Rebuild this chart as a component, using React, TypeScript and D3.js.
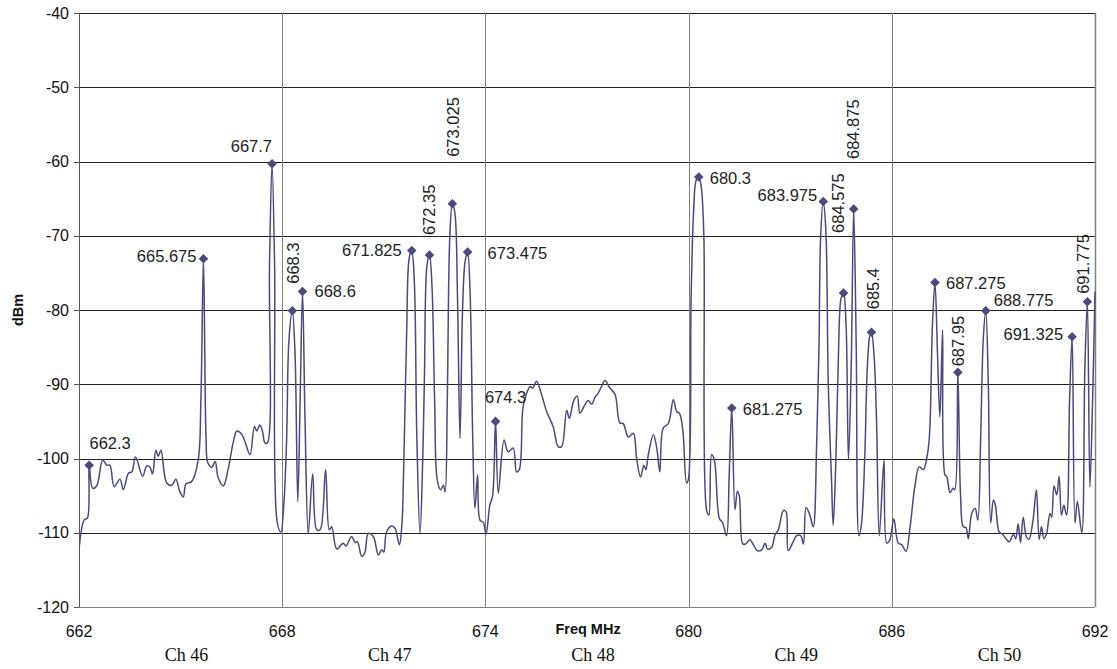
import React from 'react';
import * as d3 from 'd3';

const freqs = [
  662.0, 662.15, 662.25, 662.3, 662.4, 662.52, 662.7, 662.82, 662.91, 663.04,
  663.21, 663.31, 663.46, 663.56, 663.67, 663.88, 664.0, 664.1, 664.17, 664.27,
  664.34, 664.42, 664.59, 664.74, 664.86, 664.98, 665.08, 665.16, 665.33, 665.52,
  665.6, 665.675, 665.75, 665.8, 665.92, 666.02, 666.11, 666.26, 666.41, 666.56,
  666.66, 666.8, 666.9, 667.05, 667.18, 667.25, 667.34, 667.42, 667.49, 667.56,
  667.625, 667.7, 667.775, 667.85, 667.96, 668.05, 668.13, 668.2, 668.3, 668.38,
  668.46, 668.53, 668.6, 668.675, 668.77, 668.9, 669.02, 669.12, 669.28, 669.39,
  669.46, 669.61, 669.8, 669.88, 670.05, 670.15, 670.22, 670.35, 670.44, 670.54,
  670.69, 670.84, 670.94, 671.0, 671.08, 671.23, 671.33, 671.46, 671.53, 671.58,
  671.675, 671.75, 671.825, 671.9, 671.975, 672.07, 672.15, 672.2, 672.275, 672.35,
  672.425, 672.5, 672.58, 672.68, 672.76, 672.81, 672.875, 672.95, 673.025, 673.1,
  673.175, 673.25, 673.325, 673.4, 673.475, 673.55, 673.625, 673.69, 673.77, 673.84,
  673.94, 674.02, 674.13, 674.21, 674.3, 674.38, 674.55, 674.67, 674.82, 674.92,
  675.0, 675.1, 675.17, 675.32, 675.4, 675.51, 675.66, 675.81, 676.0, 676.15,
  676.25, 676.4, 676.48, 676.6, 676.71, 676.79, 676.91, 677.04, 677.14, 677.24,
  677.33, 677.43, 677.53, 677.66, 677.83, 677.97, 678.07, 678.22, 678.37, 678.46,
  678.58, 678.68, 678.74, 678.81, 678.96, 679.06, 679.15, 679.25, 679.4, 679.55,
  679.65, 679.73, 679.83, 679.94, 679.99, 680.075, 680.15, 680.225, 680.3, 680.375,
  680.45, 680.53, 680.6, 680.68, 680.76, 680.91, 681.0, 681.12, 681.2, 681.275,
  681.37, 681.44, 681.5, 681.6, 681.69, 681.81, 681.91, 682.03, 682.16, 682.26,
  682.33, 682.45, 682.55, 682.65, 682.8, 682.88, 682.94, 683.09, 683.19, 683.31,
  683.39, 683.47, 683.58, 683.68, 683.78, 683.85, 683.9, 683.975, 684.05, 684.125,
  684.22, 684.27, 684.35, 684.425, 684.5, 684.575, 684.65, 684.72, 684.8, 684.875,
  684.95, 685.03, 685.1, 685.2, 685.275, 685.35, 685.4, 685.475, 685.55, 685.63,
  685.77, 685.85, 685.94, 686.06, 686.19, 686.29, 686.42, 686.54, 686.68, 686.81,
  686.93, 687.03, 687.11, 687.2, 687.275, 687.35, 687.42, 687.5, 687.57, 687.62,
  687.72, 687.81, 687.86, 687.95, 688.03, 688.11, 688.19, 688.26, 688.36, 688.46,
  688.54, 688.625, 688.7, 688.775, 688.85, 688.92, 689.0, 689.06, 689.17, 689.27,
  689.37, 689.47, 689.59, 689.66, 689.73, 689.8, 689.88, 689.97, 690.05, 690.17,
  690.27, 690.35, 690.42, 690.49, 690.57, 690.67, 690.72, 690.79, 690.87, 690.94,
  691.01, 691.08, 691.16, 691.25, 691.325, 691.41, 691.48, 691.61, 691.7, 691.775,
  691.85, 691.93, 692.0,
];

const levels = [
  -112.3, -108.3, -108.0, -100.9, -104.0, -103.7, -100.2, -100.9, -100.9, -103.8,
  -102.8, -104.2, -102.0, -101.8, -99.8, -102.4, -101.0, -101.2, -102.1, -98.9,
  -99.7, -98.9, -103.3, -103.6, -102.8, -104.5, -105.2, -103.4, -103.1, -100.2,
  -92, -73.1, -97, -100.5, -101.2, -100.4, -102.6, -103.7, -101.3, -97.7,
  -96.3, -96.7, -97.7, -99.5, -95.7, -96.3, -95.5, -96.4, -97.9, -97.9,
  -74, -60.3, -74, -108.5, -109.9, -106, -97.5, -84, -80.1, -86,
  -105.8, -92, -77.5, -95, -110.1, -102.1, -109.6, -109.6, -101.5, -109.6,
  -109.2, -112.2, -111.4, -111.8, -110.5, -111.3, -111.2, -113.2, -112.7, -110.1,
  -110.5, -113.0, -112.3, -112.6, -109.9, -109.1, -109.4, -111.6, -109.2, -102.9,
  -83, -73, -72.0, -76, -97, -110.2, -100, -89, -74, -72.6,
  -77, -92, -102.9, -104.2, -103.6, -104.5, -92, -70, -65.7, -67,
  -78, -97.3, -80, -73.5, -72.2, -78, -97, -106.7, -102.2, -108.3,
  -108.6, -110.2, -106.3, -105.1, -95.0, -104.7, -97.5, -99.1, -98.6, -101.8,
  -101.5, -93.5, -91.9, -90.3, -90.5, -89.6, -91.4, -93.7, -95.7, -98.4,
  -98.4, -93.5, -94.6, -92.3, -91.6, -93.9, -93.0, -92.2, -92.7, -91.7,
  -91.2, -90.3, -89.5, -90.4, -91.4, -95.2, -95.3, -97.1, -96.6, -99.8,
  -102.5, -100.9, -101.5, -99.5, -96.8, -98.6, -101.8, -95.9, -95.3, -92.1,
  -93.7, -93.9, -96.2, -103.3, -102.9, -78, -66.5, -62.5, -62.1, -63.5,
  -70, -106.9, -107.6, -99.5, -100.2, -108.1, -108.6, -110.4, -102, -93.2,
  -106.9, -104.4, -105.1, -111.5, -111.5, -110.9, -111.6, -112.4, -112.3, -111.4,
  -112.2, -112.0, -110.3, -109.6, -107.0, -107.2, -112.4, -111.2, -110.4, -110.4,
  -111.5, -106.6, -107.6, -109.2, -98.4, -85, -70, -65.4, -69, -90,
  -102.9, -109, -100, -86, -78.5, -77.7, -82, -100.2, -88, -66.4,
  -85, -110.4, -109, -100, -88, -83.5, -83.0, -86, -95, -110.4,
  -100.2, -111.4, -111.0, -108.1, -111.4, -111.6, -112.5, -109.2, -103.8, -101.1,
  -101.5, -100.0, -97.1, -82, -76.3, -86, -94.4, -82.7, -102.2, -102.4,
  -104.6, -104.0, -104.2, -88.4, -105, -109.2, -109.3, -110.8, -107.4, -106.7,
  -108.3, -97, -84, -80.1, -90, -108.7, -105.6, -106.3, -109.9, -110.2,
  -110.8, -111.2, -110.2, -110.8, -108.8, -111.3, -107.9, -110.5, -110.9, -108.3,
  -104.2, -110.9, -109.2, -110.8, -110.1, -107.4, -107.9, -103.7, -104.9, -102.4,
  -107.6, -106.3, -107.6, -92, -83.6, -108.7, -105.8, -110.0, -88, -78.9,
  -103.8, -92, -77.5,
];

const markerFreqs = [
  662.3, 665.675, 667.7, 668.3, 668.6, 671.825, 672.35, 673.025, 673.475, 674.3,
  680.3, 681.275, 683.975, 684.575, 684.875, 685.4, 687.275, 687.95, 688.775,
  691.325, 691.775,
];

const yTicks = [-40, -50, -60, -70, -80, -90, -100, -110, -120];
const xTicks = [662, 668, 674, 680, 686, 692];
const channelNames = ['Ch 46', 'Ch 47', 'Ch 48', 'Ch 49', 'Ch 50'];
const channelCenters = [665, 671, 677, 683, 689];

// label layout per marker: mode, dx, dy (pixels, relative to marker)
const labelLayout: [string, number, number][] = [
  ['middle', 21, -22],
  ['end', -7, -3],
  ['end', 0, -18],
  ['vertical', 1, -27],
  ['start', 12, 0],
  ['end', -10, -1],
  ['vertical', -1, -20],
  ['vertical', 1, -47],
  ['start', 20, 1],
  ['middle', 10, -24],
  ['start', 11, 1],
  ['start', 11, 1],
  ['end', -6, -7],
  ['vertical', -6, -60],
  ['vertical', -1, -50],
  ['vertical', 1.5, -23],
  ['start', 11, 0],
  ['vertical', 0, -6],
  ['start', 8, -11],
  ['end', -9, -3],
  ['vertical', -4, -8],
];

const W = 1117;
const H = 669;
const LINE = '#4a4a7e';
const FONT = 'Liberation Sans, Arial, sans-serif';

export default function App() {
  const x = d3.scaleLinear().domain([662, 692]).range([79, 1095]);
  const y = d3.scaleLinear().domain([-120, -40]).range([607, 13]);

  const pts: [number, number][] = freqs.map((f, i) => [f, levels[i]]);
  const line = d3
    .line<[number, number]>()
    .x((d) => x(d[0]))
    .y((d) => y(d[1]))
    .curve(d3.curveCatmullRom.alpha(0.5));

  const markers = markerFreqs.map((mf) => {
    const i = freqs.findIndex((f) => Math.abs(f - mf) < 1e-6);
    return { f: mf, v: levels[i] };
  });

  const diamond = d3.symbol().type(d3.symbolDiamond2).size(58)() as string;

  return (
    <svg
      width={W}
      height={H}
      style={{ position: 'absolute', left: 0, top: 0, background: '#fff' }}
      fontFamily={FONT}
    >
      <defs>
        <clipPath id="plot">
          <rect x={79} y={10} width={1017} height={600} />
        </clipPath>
      </defs>
      {/* horizontal gridlines */}
      {yTicks.map((t) => (
        <line
          key={'h' + t}
          x1={x(662)}
          x2={x(692)}
          y1={Math.round(y(t)) + 0.5}
          y2={Math.round(y(t)) + 0.5}
          stroke={t === -120 ? '#808080' : '#222'}
          strokeWidth={1}
        />
      ))}
      {/* vertical gridlines */}
      {xTicks.map((t) => (
        <line
          key={'v' + t}
          x1={Math.round(x(t)) + 0.5}
          x2={Math.round(x(t)) + 0.5}
          y1={y(-40)}
          y2={y(-120)}
          stroke={t === 662 ? '#555' : '#808080'}
          strokeWidth={t === 692 ? 1.5 : 1}
        />
      ))}
      {/* y ticks */}
      {yTicks.map((t) => (
        <g key={'yt' + t}>
          <line
            x1={x(662) - 5}
            x2={x(662)}
            y1={Math.round(y(t)) + 0.5}
            y2={Math.round(y(t)) + 0.5}
            stroke="#555"
          />
          <text
            x={69}
            y={y(t)}
            textAnchor="end"
            dominantBaseline="central"
            fontSize={16}
            fill="#111"
          >
            {t}
          </text>
        </g>
      ))}
      {/* x tick labels */}
      {xTicks.map((t) => (
        <text
          key={'xt' + t}
          x={x(t)}
          y={631}
          textAnchor="middle"
          dominantBaseline="central"
          fontSize={16}
          fill="#111"
        >
          {t}
        </text>
      ))}
      <text x={588} y={629} textAnchor="middle" dominantBaseline="central" fontSize={14.5} fontWeight="bold" fill="#111">
        Freq MHz
      </text>
      <text
        transform={`translate(18,${y(-80)}) rotate(-90)`}
        textAnchor="middle"
        dominantBaseline="central"
        fontSize={14.5}
        fontWeight="bold"
        fill="#111"
      >
        dBm
      </text>
      {channelNames.map((c, i) => (
        <text
          key={c}
          x={x(channelCenters[i]) + 6}
          y={655}
          textAnchor="middle"
          dominantBaseline="central"
          fontSize={18}
          fontFamily="Liberation Serif, Times New Roman, serif"
          fill="#111"
        >
          {c}
        </text>
      ))}
      {/* spectrum */}
      <path
        d={line(pts) || ''}
        fill="none"
        stroke={LINE}
        strokeWidth={1.5}
        strokeLinejoin="round"
        clipPath="url(#plot)"
      />
      {/* markers */}
      {markers.map((m) => (
        <path key={'m' + m.f} d={diamond} transform={`translate(${x(m.f)},${y(m.v)})`} fill={LINE} />
      ))}
      {/* labels */}
      {markers.map((m, i) => {
        const [mode, dx, dy] = labelLayout[i];
        const px = x(m.f) + dx;
        const py = y(m.v) + dy;
        if (mode === 'vertical') {
          return (
            <text
              key={'l' + m.f}
              transform={`translate(${px},${py}) rotate(-90)`}
              textAnchor="start"
              dominantBaseline="central"
              fontSize={16.5}
              fill="#222"
            >
              {m.f}
            </text>
          );
        }
        return (
          <text
            key={'l' + m.f}
            x={px}
            y={py}
            textAnchor={mode}
            dominantBaseline="central"
            fontSize={16.5}
            fill="#222"
          >
            {m.f}
          </text>
        );
      })}
    </svg>
  );
}
